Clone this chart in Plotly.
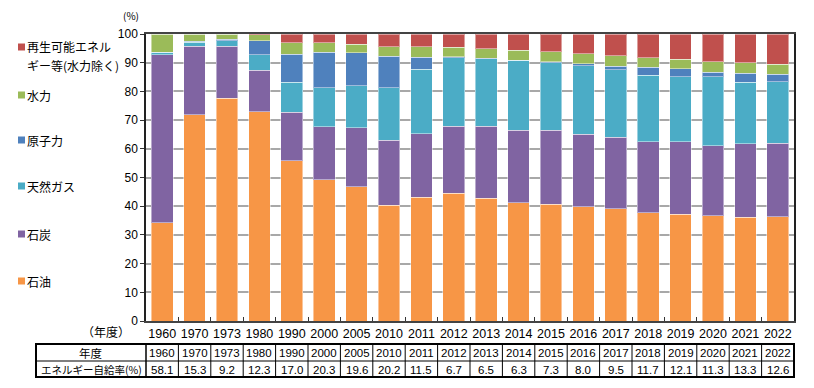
import plotly.graph_objects as go

years = ["1960", "1970", "1973", "1980", "1990", "2000", "2005", "2010", "2011", "2012",
         "2013", "2014", "2015", "2016", "2017", "2018", "2019", "2020", "2021", "2022"]

oil     = [34.3, 71.9, 77.7, 72.9, 55.8, 49.2, 46.7, 40.3, 43.2, 44.5, 42.8, 41.2, 40.6, 39.8, 39.1, 37.7, 37.2, 36.6, 36.2, 36.3]
coal    = [58.5, 23.8, 18.0, 14.5, 16.9, 18.5, 20.7, 22.6, 22.1, 23.4, 25.0, 25.2, 25.8, 25.2, 25.0, 24.8, 25.2, 24.5, 25.6, 25.7]
gas     = [0.8, 1.4, 2.0, 5.4, 10.5, 13.5, 14.5, 18.3, 22.5, 23.8, 23.6, 24.4, 23.5, 23.9, 23.4, 23.2, 22.7, 24.0, 21.4, 21.4]
nuclear = [0.0, 0.3, 0.4, 4.9, 9.7, 12.4, 11.6, 11.0, 4.1, 0.4, 0.2, 0.0, 0.4, 0.8, 1.3, 2.7, 2.8, 1.5, 3.1, 2.6]
hydro   = [6.4, 2.6, 1.9, 2.1, 4.1, 3.4, 3.0, 3.4, 3.6, 3.2, 3.3, 3.5, 3.5, 3.4, 3.7, 3.4, 3.3, 3.7, 3.7, 3.5]
renew   = [0.0, 0.0, 0.0, 0.2, 3.0, 3.0, 3.5, 4.4, 4.5, 4.7, 5.1, 5.7, 6.2, 6.9, 7.5, 8.2, 8.8, 9.7, 10.0, 10.5]

self_sufficiency = ["58.1", "15.3", "9.2", "12.3", "17.0", "20.3", "19.6", "20.2", "11.5", "6.7",
                    "6.5", "6.3", "7.3", "8.0", "9.5", "11.7", "12.1", "11.3", "13.3", "12.6"]

series_names = ["石油", "石炭", "天然ガス", "原子力", "水力", "再生可能エネルギー等(水力除く)"]
legend_lines = [["石油"], ["石炭"], ["天然ガス"], ["原子力"], ["水力"], ["再生可能エネル", "ギー等(水力除く)"]]
series_values = [oil, coal, gas, nuclear, hydro, renew]
colors = ["#F79646", "#8064A2", "#4BACC6", "#4F81BD", "#9BBB59", "#C0504D"]

y_ticks = [0, 10, 20, 30, 40, 50, 60, 70, 80, 90, 100]

W, H = 814, 388
L, R, T, B = 146, 20, 34, 67
PW, PH = W - L - R, H - T - B

def px_x(px):
    return (px - L) / PW

def px_y(py):
    return (H - B - py) / PH

fig = go.Figure()
for name, vals, col in zip(series_names, series_values, colors):
    fig.add_trace(go.Bar(
        x=years, y=vals, name=name,
        marker=dict(color=col, line=dict(color="rgba(255,255,255,0.45)", width=1)),
        showlegend=False,
    ))

font_main = "Liberation Sans, Arial, Noto Sans CJK JP"
font_jp = "Noto Sans CJK JP, Liberation Sans"
font_narrow = "Liberation Sans Narrow, Liberation Sans, Arial"

shapes = []
annotations = []

# Legend (custom, left side)
legend_y = [281, 234, 186, 140, 95, 47]
line_step = 18.5
for lines, col, yy in zip(legend_lines, colors, legend_y):
    shapes.append(dict(type="rect", xref="paper", yref="paper",
                       x0=px_x(18), x1=px_x(25), y0=px_y(yy + 3.5), y1=px_y(yy - 3.5),
                       fillcolor=col, line=dict(width=0)))
    for k, txt in enumerate(lines):
        annotations.append(dict(xref="paper", yref="paper", x=px_x(26),
                                y=px_y(yy + k * line_step), xanchor="left", yanchor="middle",
                                text=txt, showarrow=False, align="left", borderpad=0,
                                font=dict(family=font_jp, size=12, color="#000")))

# (%) label
annotations.append(dict(xref="paper", yref="paper", x=px_x(131), y=px_y(15),
                        text="(%)", showarrow=False, xanchor="center", yanchor="middle",
                        font=dict(family=font_jp, size=10, color="#000")))
# (年度) label
annotations.append(dict(xref="paper", yref="paper", x=px_x(106), y=px_y(331),
                        text="（年度）", showarrow=False, xanchor="center", yanchor="middle",
                        font=dict(family=font_jp, size=12, color="#000")))

# Table
tbl_left, tbl_first = 36, 146
tbl_top, tbl_mid, tbl_bot = 344, 361, 377
n = len(years)
shapes.append(dict(type="rect", xref="paper", yref="paper",
                   x0=px_x(tbl_left), x1=1.0, y0=px_y(tbl_bot), y1=px_y(tbl_top),
                   line=dict(color="#000", width=2), fillcolor="rgba(0,0,0,0)"))
shapes.append(dict(type="line", xref="paper", yref="paper",
                   x0=px_x(tbl_left), x1=1.0, y0=px_y(tbl_mid), y1=px_y(tbl_mid),
                   line=dict(color="#000", width=1.2)))
shapes.append(dict(type="line", xref="paper", yref="paper",
                   x0=0, x1=0, y0=px_y(tbl_bot), y1=px_y(tbl_top),
                   line=dict(color="#000", width=1.5)))
for i in range(1, n):
    xx = i / n
    shapes.append(dict(type="line", xref="paper", yref="paper",
                       x0=xx, x1=xx, y0=px_y(tbl_bot), y1=px_y(tbl_top),
                       line=dict(color="#000", width=1)))

annotations.append(dict(xref="paper", yref="paper", x=px_x((tbl_left + tbl_first) / 2),
                        y=px_y((tbl_top + tbl_mid) / 2), text="年度", showarrow=False,
                        xanchor="center", yanchor="middle",
                        font=dict(family=font_jp, size=11.5, color="#000")))
annotations.append(dict(xref="paper", yref="paper", x=px_x((tbl_left + tbl_first) / 2),
                        y=px_y((tbl_mid + tbl_bot) / 2), text="エネルギー自給率(%)", showarrow=False,
                        xanchor="center", yanchor="middle",
                        font=dict(family=font_jp, size=10.5, color="#000")))
for i, (yr, v) in enumerate(zip(years, self_sufficiency)):
    xc = (i + 0.5) / n
    annotations.append(dict(xref="paper", yref="paper", x=xc, y=px_y((tbl_top + tbl_mid) / 2 + 0.5),
                            text=yr, showarrow=False, xanchor="center", yanchor="middle",
                            font=dict(family=font_narrow, size=11.5, color="#000")))
    annotations.append(dict(xref="paper", yref="paper", x=xc, y=px_y((tbl_mid + tbl_bot) / 2 + 0.5),
                            text=v, showarrow=False, xanchor="center", yanchor="middle",
                            font=dict(family=font_narrow, size=11.5, color="#000")))

fig.update_layout(
    width=W, height=H,
    margin=dict(l=L, r=R, t=T, b=B, pad=0, autoexpand=False),
    barmode="stack", bargap=0.33,
    plot_bgcolor="white", paper_bgcolor="white",
    font=dict(family=font_main, size=12, color="#000"),
    xaxis=dict(type="category", range=[-0.5, n - 0.5], tickangle=0, automargin=False,
               tickson="boundaries", ticks="inside", ticklen=4, tickcolor="#333",
               showline=True, linecolor="#444", linewidth=1.5, mirror=True,
               showgrid=False, tickfont=dict(family=font_main, size=12.5, color="#000"),
               fixedrange=True),
    yaxis=dict(range=[0, 100], tickvals=y_ticks, ticks="outside", ticklen=4, automargin=False,
               tickcolor="#333", showline=True, linecolor="#222", linewidth=1.5,
               mirror=True, showgrid=True, gridcolor="#A8A8A8", gridwidth=1.5,
               tickfont=dict(family=font_main, size=12, color="#000"), zeroline=False,
               fixedrange=True),
    shapes=shapes,
    annotations=annotations,
)

fig.write_html("out.html", config={"displayModeBar": False},
               post_script="document.body.style.margin='0';document.body.style.padding='0';")
